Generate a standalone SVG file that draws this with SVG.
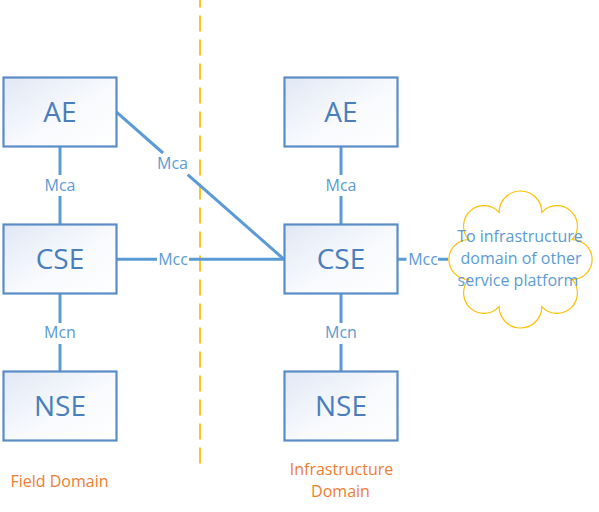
<svg xmlns="http://www.w3.org/2000/svg" width="599" height="512" viewBox="0 0 599 512">
<defs>
<linearGradient id="boxfill" x1="0" y1="0" x2="1" y2="1">
<stop offset="0" stop-color="#E1E8F5"/>
<stop offset="0.55" stop-color="#F8FAFD"/>
<stop offset="1" stop-color="#FFFFFF"/>
</linearGradient>
</defs>
<style>
.box{fill:url(#boxfill);stroke:#5A8CC6;stroke-width:2.2}
.bl{font-family:"Open Sans","Noto Sans",sans-serif;font-size:28px;fill:#4A7EBC;text-anchor:middle}
.ln{stroke:#5B9BD5;stroke-width:3;fill:none}
.lb{font-family:"Open Sans","Noto Sans",sans-serif;font-size:16px;fill:#5B9BD5;text-anchor:middle}
.dom{font-family:"Open Sans","Noto Sans",sans-serif;font-size:16px;fill:#ED7D31;text-anchor:middle}
.cl{fill:#FFFFFF;stroke:#FFC000;stroke-width:1.2}
</style>
<rect width="599" height="512" fill="#FFFFFF"/>
<line x1="200" y1="0" x2="200" y2="464" stroke="#FFC000" stroke-width="1.8" stroke-dasharray="16 8" stroke-dashoffset="8.5"/>
<g id="connectors">
<path class="ln" d="M60 146V175M60 196V225M60 294V323M60 344V371"/>
<path class="ln" d="M341 146V175M341 196V225M341 294V323M341 344V371"/>
<path class="ln" d="M116 111.7L163 153M187.7 174.7L284 259.3"/>
<path class="ln" d="M116 259.3H157M189 259.3H284"/>
<path class="ln" d="M397 259.3H406.5M438 259.3H448"/>
<text class="lb" x="60" y="191">Mca</text>
<text class="lb" x="341" y="191">Mca</text>
<text class="lb" x="60" y="338">Mcn</text>
<text class="lb" x="341" y="338">Mcn</text>
<text class="lb" x="172.5" y="169.3">Mca</text>
<text class="lb" x="173" y="265">Mcc</text>
<text class="lb" x="423" y="265">Mcc</text>
</g>
<g id="field-ae"><rect class="box" x="3.5" y="77.5" width="113" height="69"/><text class="bl" x="60" y="122">AE</text></g>
<g id="field-cse"><rect class="box" x="3.5" y="224.5" width="113" height="69"/><text class="bl" x="60" y="269">CSE</text></g>
<g id="field-nse"><rect class="box" x="3.5" y="371.5" width="113" height="69"/><text class="bl" x="60" y="416">NSE</text></g>
<g id="infra-ae"><rect class="box" x="284.5" y="77.5" width="113" height="69"/><text class="bl" x="341" y="122">AE</text></g>
<g id="infra-cse"><rect class="box" x="284.5" y="224.5" width="113" height="69"/><text class="bl" x="341" y="269">CSE</text></g>
<g id="infra-nse"><rect class="box" x="284.5" y="371.5" width="113" height="69"/><text class="bl" x="341" y="416">NSE</text></g>
<g id="cloud">
<path class="cl" d="M468.8 239.6A1 1 0 0 1 499.1 212.4A1 1 0 0 1 541.9 212.4A1 1 0 0 1 572.2 239.6A1 1 0 0 1 572.2 279.4A1 1 0 0 1 541.9 306.6A1 1 0 0 1 499.1 306.6A1 1 0 0 1 468.8 279.4A1 1 0 0 1 468.8 239.6Z"/>
<text class="lb" x="520" y="242">To infrastructure</text>
<text class="lb" x="521" y="264">domain of other</text>
<text class="lb" x="518" y="286">service platform</text>
</g>
<g id="labels">
<text class="dom" x="59.5" y="486.7">Field Domain</text>
<text class="dom" x="341.5" y="475">Infrastructure</text>
<text class="dom" x="340.5" y="496.7">Domain</text>
</g>
</svg>
